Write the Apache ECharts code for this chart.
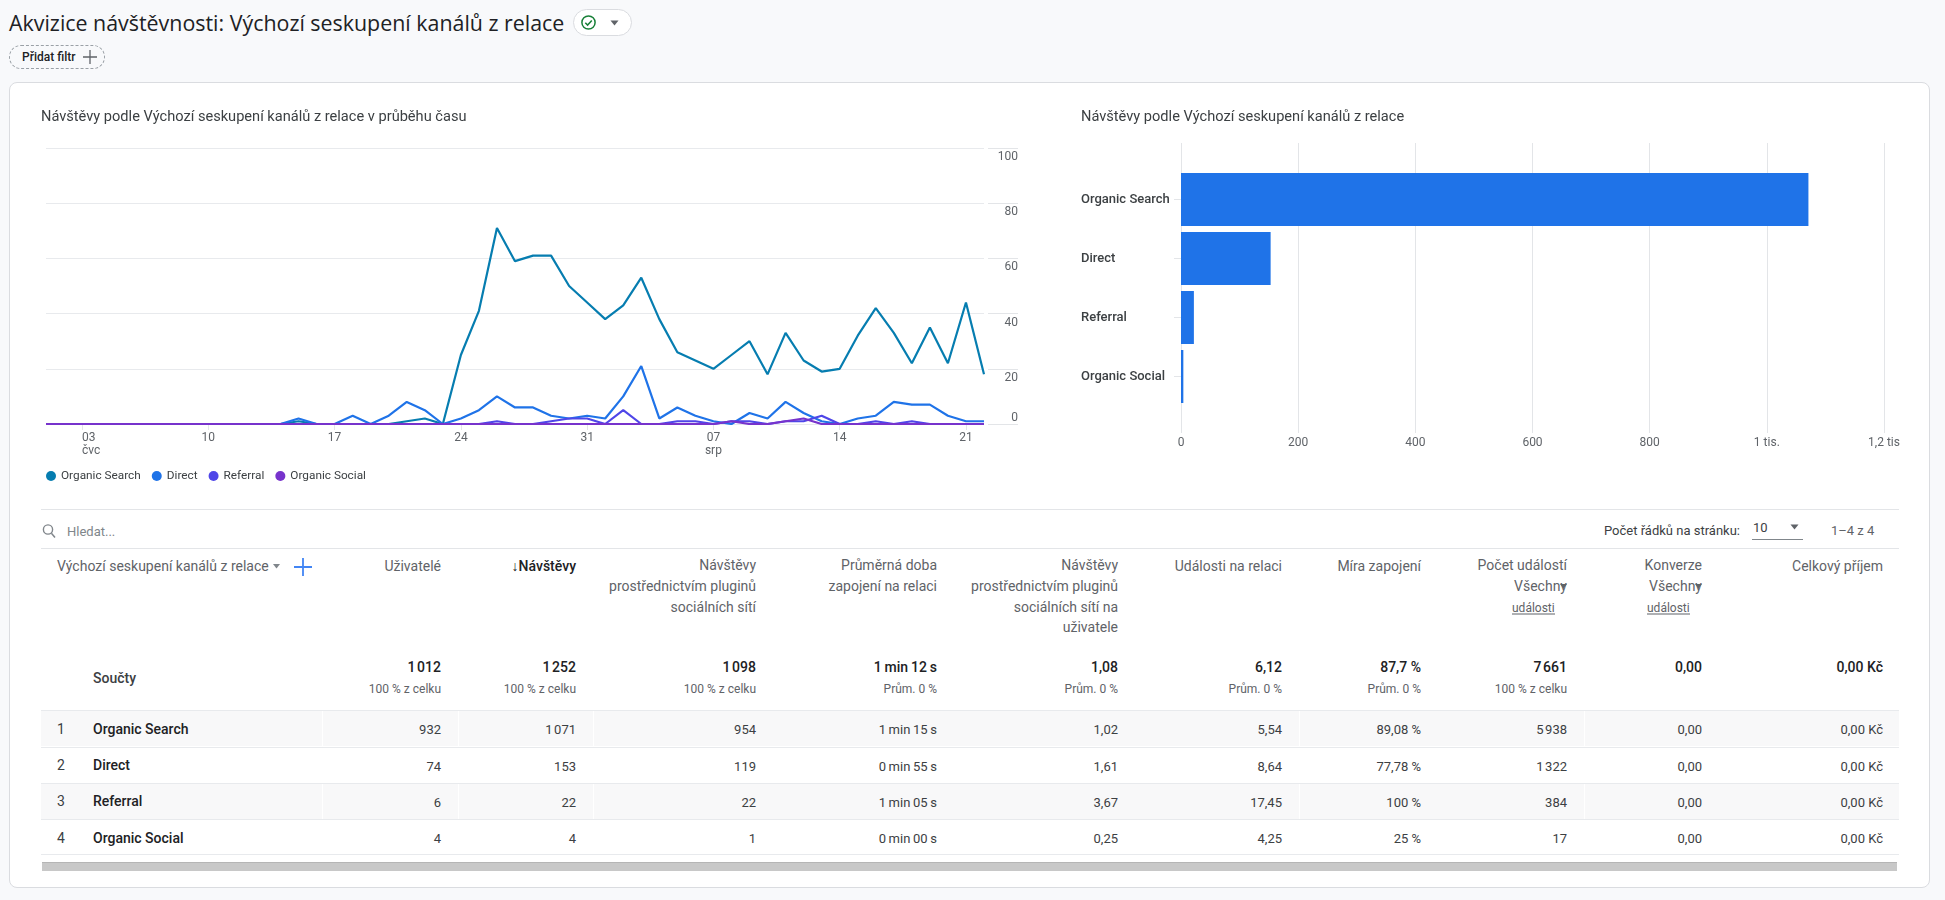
<!DOCTYPE html>
<html lang="cs"><head><meta charset="utf-8"><title>Akvizice návštěvnosti</title>
<script src="https://cdn.jsdelivr.net/npm/echarts@6/dist/echarts.min.js"></script>
<style>
html,body{margin:0;padding:0;width:1945px;height:900px;overflow:hidden;background:#f8f9fb;font-family:Roboto,sans-serif;color:#3c4043}
#card{position:absolute;left:9px;top:82px;width:1921px;height:806px;background:#fff;border:1px solid #dadce0;border-radius:8px;box-sizing:border-box}
#chart{position:absolute;left:0;top:0;width:1945px;height:900px}
#ui{position:absolute;left:0;top:0;width:1945px;height:900px;pointer-events:none}
#ui span.t{position:absolute;white-space:nowrap;line-height:1;transform:translateY(-50%)}
#ui div.b{position:absolute}
#ui svg{display:block}
</style></head><body>
<div id="card"></div><div id="ui"></div><div id="chart"></div>
<script>
// ---- time series ----
const dates = ['1. 7.','2. 7.','3. 7.','4. 7.','5. 7.','6. 7.','7. 7.','8. 7.','9. 7.','10. 7.','11. 7.','12. 7.','13. 7.','14. 7.','15. 7.','16. 7.','17. 7.','18. 7.','19. 7.','20. 7.','21. 7.','22. 7.','23. 7.','24. 7.','25. 7.','26. 7.','27. 7.','28. 7.','29. 7.','30. 7.','31. 7.','1. 8.','2. 8.','3. 8.','4. 8.','5. 8.','6. 8.','7. 8.','8. 8.','9. 8.','10. 8.','11. 8.','12. 8.','13. 8.','14. 8.','15. 8.','16. 8.','17. 8.','18. 8.','19. 8.','20. 8.','21. 8.','22. 8.'];
const organicSearch = [0,0,0,0,0,0,0,0,0,0,0,0,0,0,1,0,0,0,0,0,1,2,0,25,41,71,59,61,61,50,44,38,43,53,38,26,23,20,25,30,18,33,23,19,20,32,42,33,22,35,22,44,18];
const direct = [0,0,0,0,0,0,0,0,0,0,0,0,0,0,2,0,0,3,0,3,8,5,0,2,5,10,6,6,3,2,3,2,10,21,2,6,3,1,0,4,2,8,4,1,0,2,3,8,7,7,3,1,1];
const referral = [0,0,0,0,0,0,0,0,0,0,0,0,0,0,0,0,0,0,0,0,0,0,0,0,0,1,0,0,1,2,2,0,5,0,0,1,1,0,1,1,0,1,1,3,0,0,1,0,1,0,0,0,0];
const organicSocial = [0,0,0,0,0,0,0,0,0,0,0,0,0,0,0,0,0,0,0,0,0,0,0,0,0,0,0,0,0,0,0,0,0,0,0,0,0,0,1,0,0,1,2,0,0,0,0,0,0,0,0,0,0];
const channelNames = ['Organic Search','Direct','Referral','Organic Social'];
const channelColors = ['#067db0','#1f73e8','#4f46e8','#7733cc'];
const xTickLabels = {'3. 7.':'03\nčvc','10. 7.':'10','17. 7.':'17','24. 7.':'24','31. 7.':'31','7. 8.':'07\nsrp','14. 8.':'14','21. 8.':'21'};
const yTickValues = [0,20,40,60,80,100];
// ---- bar chart ----
const barCategories = ['Organic Search','Direct','Referral','Organic Social'];
const barValues = [1071,153,22,4];
const barTickLabels = {0:'0',200:'200',400:'400',600:'600',800:'800',1000:'1 tis.',1200:'1,2 tis'};
// ---- table ----
const tableRanks = ['1','2','3','4'];
const tableNames = ['Organic Search','Direct','Referral','Organic Social'];
const users = ['932','74','6','4'];
const visits = ['1\u202f071','153','22','4'];
const pluginVisits = ['954','119','22','1'];
const avgEngagement = ['1\u2009min\u200915\u2009s','0\u2009min\u200955\u2009s','1\u2009min\u200905\u2009s','0\u2009min\u200900\u2009s'];
const pluginPerUser = ['1,02','1,61','3,67','0,25'];
const eventsPerSession = ['5,54','8,64','17,45','4,25'];
const engagementRate = ['89,08 %','77,78 %','100 %','25 %'];
const eventCount = ['5\u202f938','1\u202f322','384','17'];
const conversions = ['0,00','0,00','0,00','0,00'];
const revenue = ['0,00 Kč','0,00 Kč','0,00 Kč','0,00 Kč'];
const totals = ['1\u202f012','1\u202f252','1\u202f098','1\u2009min\u200912\u2009s','1,08','6,12','87,7 %','7\u202f661','0,00','0,00 Kč'];
const totalNotes = ['100 % z celku','100 % z celku','100 % z celku','Prům. 0 %','Prům. 0 %','Prům. 0 %','Prům. 0 %','100 % z celku','',''];
const headers = [['Uživatelé'],['↓Návštěvy'],['Návštěvy','prostřednictvím pluginů','sociálních sítí'],['Průměrná doba','zapojení na relaci'],['Návštěvy','prostřednictvím pluginů','sociálních sítí na','uživatele'],['Události na relaci'],['Míra zapojení'],['Počet událostí','Všechny'],['Konverze','Všechny'],['Celkový příjem']];

// ---- layout of the html part ----
const ui = document.getElementById('ui');
function txt(s,x,y,o){o=o||{};const e=document.createElement('span');e.className='t';e.textContent=s;
  if(o.right)e.style.right=(1945-x)+'px';else e.style.left=x+'px';e.style.top=y+'px';
  e.style.fontSize=(o.size||13)+'px';e.style.fontWeight=o.w||400;e.style.color=o.c||'#3c4043';
  if(o.font)e.style.fontFamily=o.font;if(o.u)e.style.borderBottom='1px solid #5f6368';if(o.ls)e.style.letterSpacing=o.ls+'px';ui.appendChild(e);return e;}
function box(x,y,w,h,css){const e=document.createElement('div');e.className='b';e.style.cssText=`left:${x}px;top:${y}px;width:${w}px;height:${h}px;${css||''}`;ui.appendChild(e);return e;}
txt('Akvizice návštěvnosti: Výchozí seskupení kanálů z relace',9,23,{size:21.4,c:'#202124',font:'"Open Sans",Roboto,sans-serif'});
box(573,9,59,27,'border:1px solid #dadce0;border-radius:14px;box-sizing:border-box;background:#fff');
box(581,15,15,15,'').innerHTML='<svg width="15" height="15" viewBox="0 0 15 15"><circle cx="7.5" cy="7.5" r="6.6" fill="none" stroke="#188038" stroke-width="1.5"/><path d="M4.3 7.7l2.3 2.4 4.2-4.6" fill="none" stroke="#188038" stroke-width="1.5"/></svg>';
box(610,20,10,6,'').innerHTML='<svg width="10" height="6"><path d="M0.5 0.5h8l-4 5z" fill="#5f6368"/></svg>';
box(9,45,96,24,'border:1px dashed #9aa0a6;border-radius:12px;box-sizing:border-box');
txt('Přidat filtr',22,57,{size:12,w:500,c:'#202124'});
box(82,49,16,16,'').innerHTML='<svg width="16" height="16"><path d="M8 1v14M1 8h14" stroke="#5f6368" stroke-width="1.3"/></svg>';
box(41,509,1858,1,'background:#e3e5e8');box(41,548,1858,1,'background:#e3e5e8');
box(42,523,15,16,'').innerHTML='<svg width="15" height="16"><circle cx="6" cy="6.5" r="4.6" fill="none" stroke="#80868b" stroke-width="1.4"/><path d="M9.4 10.2l3.6 4.3" stroke="#80868b" stroke-width="1.5"/></svg>';
txt('Hledat...',67,531,{c:'#80868b',size:13});
txt('Počet řádků na stránku:',1604,530,{size:13});
txt('10',1753,527,{size:13});box(1752,539,51,1,'background:#80868b');
box(1790,524,10,6,'').innerHTML='<svg width="10" height="6"><path d="M0.5 0.5h8l-4 5z" fill="#5f6368"/></svg>';
txt('1–4 z 4',1831,530,{size:13,c:'#5f6368'});
txt('Výchozí seskupení kanálů z relace',57,566,{c:'#5f6368',size:14});
box(273,564,8,5,'').innerHTML='<svg width="8" height="5"><path d="M0 0h7l-3.5 4.5z" fill="#80868b"/></svg>';
box(294,558,18,18,'').innerHTML='<svg width="18" height="18"><path d="M9 0v18M0 9h18" stroke="#4285f4" stroke-width="1.8"/></svg>';
const colRight = [441,576,756,937,1118,1282,1421,1567,1702,1883];
headers.forEach((lines,i)=>{lines.forEach((l,j)=>{
  const multi = lines.length>1;const y = multi?565+j*20.8:566;
  txt(l,colRight[i],y,{right:1,size:14,c:i===1?'#202124':'#5f6368',w:i===1?500:400});});});
[1567,1702].forEach(x=>{box(x-7,584,8,5,'').innerHTML='<svg width="8" height="5"><path d="M0 0h7l-3.5 4.5z" fill="#5f6368"/></svg>';
  txt('události',x-55,608,{right:0,size:12,c:'#5f6368',u:1});});
txt('Součty',93,678,{w:500,size:14});
totals.forEach((v,i)=>{txt(v,colRight[i],667,{right:1,size:14,w:500,c:'#202124'});
  if(totalNotes[i])txt(totalNotes[i],colRight[i],689,{right:1,size:12,c:'#5f6368'});});
const rowY=[729,765.5,801.5,838],rowTop=[710,746.7,782.7,819];
const cols=[users,visits,pluginVisits,avgEngagement,pluginPerUser,eventsPerSession,engagementRate,eventCount,conversions,revenue];
rowY.forEach((y,r)=>{
  if(r%2===0){box(41,rowTop[r],1858,36,'background:#f8f8f9');
    [322,457.5,592.5,1298.5,1584].forEach(x=>box(x,rowTop[r],1,36,'background:#fff'));}
  box(41,rowTop[r],1858,1,'background:#e8eaed');
  txt(tableRanks[r],57,y-0.5,{size:14});txt(tableNames[r],93,y-0.5,{w:500,size:14,c:'#202124'});
  cols.forEach((c,i)=>txt(c[r],colRight[i],y,{right:1}));
});
box(41,854,1858,1,'background:#e8eaed');
box(42,862,1855,9,'background:#c8c8c8;border-top:1px solid #b5b5b5;box-sizing:border-box');

// ---- chart ----
const seriesValues=[organicSearch,direct,referral,organicSocial];
const chart=echarts.init(document.getElementById('chart'),null,{renderer:'canvas',width:1945,height:900});
const isTick=(i,v)=>xTickLabels[v]!==undefined;
chart.setOption({
 animation:false,
 textStyle:{fontFamily:'Roboto'},
 title:[
  {text:'Návštěvy podle Výchozí seskupení kanálů z relace v průběhu času',left:41,top:110,padding:0,textStyle:{fontSize:14.6,fontWeight:400,color:'#3c4043',fontFamily:'Roboto'}},
  {text:'Návštěvy podle Výchozí seskupení kanálů z relace',left:1081,top:110,padding:0,textStyle:{fontSize:14.6,fontWeight:400,color:'#3c4043',fontFamily:'Roboto'}}
 ],
 legend:{left:46,top:470,padding:0,itemWidth:10,itemHeight:10,itemGap:11,icon:'circle',data:channelNames,selectedMode:false,
   textStyle:{fontSize:11.8,color:'#3c4043',fontFamily:'Roboto',padding:[0,0,0,0]}},
 tooltip:{show:false},
 grid:[
  {left:46,top:148,width:938,height:276},
  {left:1181,top:143,width:703,height:290},
  {left:1181,top:170,width:703,height:236}
 ],
 xAxis:[
  {gridIndex:0,type:'category',data:dates,boundaryGap:false,
   axisLine:{show:false},
   axisTick:{show:true,interval:isTick,length:6,alignWithLabel:true,lineStyle:{color:'#e3e5e8'}},
   axisLabel:{interval:isTick,margin:7,lineHeight:13,color:'#5f6368',fontSize:12,fontFamily:'Roboto',
     formatter:v=>{const s=xTickLabels[v]||'';return v==='3. 7.'?s.split('\n').map(l=>`{first|${l}}`).join('\n'):s;},
     rich:{first:{padding:[0,0,0,18],width:18,align:'left',fontSize:12,color:'#5f6368',lineHeight:13,fontFamily:'Roboto'}}},
   splitLine:{show:false}},
  {gridIndex:1,type:'value',min:0,max:1200,interval:200,
   axisLine:{show:false},axisTick:{show:false},
   axisLabel:{margin:4,color:'#5f6368',fontSize:12,fontFamily:'Roboto',formatter:v=>barTickLabels[v]},
   splitLine:{show:true,lineStyle:{color:'#e3e5e8',width:1}}},
  {gridIndex:2,type:'value',min:0,max:1200,interval:200,show:false}
 ],
 yAxis:[
  {gridIndex:0,type:'value',position:'right',offset:4,min:0,max:100,interval:20,
   axisLine:{show:false},
   axisTick:{show:true,length:30,lineStyle:{color:'#e3e5e8'}},
   axisLabel:{margin:30,align:'right',verticalAlign:'top',padding:[3,0,0,0],verticalAlignMinLabel:'bottom',color:'#5f6368',fontSize:12,fontFamily:'Roboto',
     formatter:v=>yTickValues.includes(v)?String(v):''},
   splitLine:{show:true,lineStyle:{color:'#e8eaed',width:1}}},
  {gridIndex:1,type:'category',show:false,data:['']},
  {gridIndex:2,type:'category',inverse:true,data:barCategories,
   axisLine:{show:true,lineStyle:{color:'#e3e5e8'}},
   axisTick:{show:true,alignWithLabel:true,length:7,lineStyle:{color:'#e3e5e8'}},
   axisLabel:{margin:100,align:'left',padding:[3,0,0,0],color:'#3c4043',fontSize:13,fontWeight:500,fontFamily:'Roboto'}}
 ],
 series:[
  ...channelNames.map((n,i)=>({name:n,type:'line',xAxisIndex:0,yAxisIndex:0,data:seriesValues[i],showSymbol:false,symbol:'none',
     lineStyle:{width:2.2,color:channelColors[i]},itemStyle:{color:channelColors[i]},z:2+i})),
  {name:'Návštěvy',type:'bar',xAxisIndex:2,yAxisIndex:2,data:barValues,barWidth:53,itemStyle:{color:'#1f73e8'},z:3}
 ]
});
</script></body></html>
